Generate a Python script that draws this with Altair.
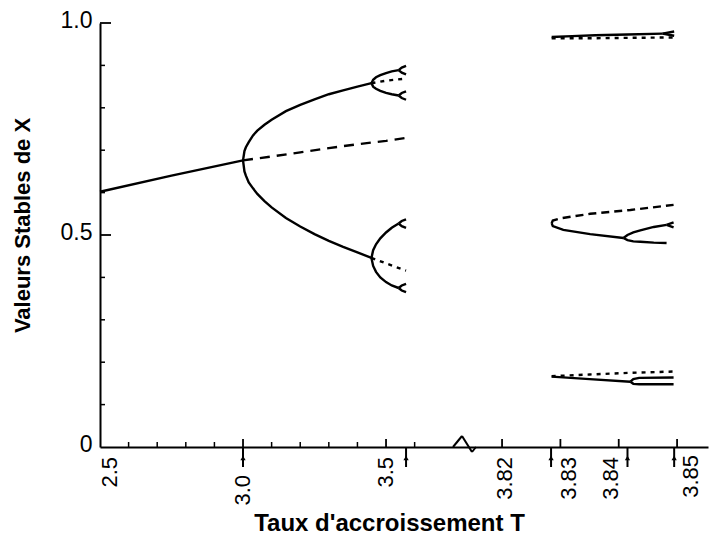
import altair as alt
import pandas as pd

# ---------------- data ----------------
# Left part (T from 2.5 to ~3.57)
p1_r = [2.5, 2.75, 3.0]
p1_x = [0.602, 0.640, 0.676]

p1u_r = [3.0, 3.1, 3.2, 3.3, 3.4, 3.5, 3.57]
p1u_x = [0.676, 0.685, 0.695, 0.705, 0.714, 0.722, 0.729]

p2_r = [3.0, 3.005, 3.01, 3.02, 3.035, 3.05, 3.075, 3.1, 3.15, 3.2, 3.25, 3.3, 3.35, 3.4, 3.449]
p2_hi = [0.676, 0.698, 0.707, 0.719, 0.735, 0.746, 0.760, 0.772, 0.792, 0.807, 0.820, 0.832, 0.841, 0.850, 0.858]
p2_lo = [0.676, 0.650, 0.640, 0.624, 0.610, 0.597, 0.580, 0.565, 0.540, 0.520, 0.502, 0.486, 0.472, 0.459, 0.446]

p2u_r = [3.449, 3.5, 3.57]
p2u_hi = [0.858, 0.864, 0.869]
p2u_lo = [0.446, 0.433, 0.416]

p4_r = [3.449, 3.455, 3.465, 3.48, 3.5, 3.52, 3.544]
p4_a = [0.858, 0.866, 0.872, 0.877, 0.882, 0.886, 0.889]
p4_b = [0.858, 0.850, 0.845, 0.840, 0.835, 0.832, 0.829]
p4_c = [0.446, 0.464, 0.478, 0.492, 0.506, 0.517, 0.527]
p4_d = [0.446, 0.427, 0.413, 0.400, 0.389, 0.381, 0.375]

p8_r = [3.544, 3.555, 3.57]
p8_spread = [0.0, 0.006, 0.010]

# Right part (period-3 window)
top_r = [3.8285, 3.832, 3.836, 3.8415, 3.8475]
top_x = [0.967, 0.969, 0.971, 0.973, 0.975]
topf_r = [3.8475, 3.8495]
topf_hi = [0.975, 0.980]
topf_lo = [0.975, 0.970]
topu_r = [3.8285, 3.835, 3.842, 3.8495]
topu_x = [0.964, 0.964, 0.965, 0.966]

mid_u_r = [3.8285, 3.8287, 3.8299, 3.8351, 3.8420, 3.8494]
mid_u_x = [0.528, 0.534, 0.539, 0.550, 0.559, 0.571]
mid_s_r = [3.8285, 3.8287, 3.8305, 3.8351, 3.8408]
mid_s_x = [0.528, 0.521, 0.512, 0.502, 0.493]
mid_b_r = [3.8408, 3.8415, 3.8425, 3.8437, 3.846, 3.8482]
mid_b_hi = [0.493, 0.500, 0.506, 0.511, 0.519, 0.524]
mid_b_lo = [0.493, 0.488, 0.485, 0.484, 0.482, 0.481]
midf_r = [3.8482, 3.8494]
midf_hi = [0.524, 0.530]
midf_lo = [0.524, 0.518]

bot_u_r = [3.8285, 3.835, 3.842, 3.8494]
bot_u_x = [0.167, 0.171, 0.175, 0.178]
bot_s_r = [3.8285, 3.835, 3.842]
bot_s_x = [0.166, 0.160, 0.154]
bot_b_r = [3.842, 3.8425, 3.8435, 3.8494]
bot_b_hi = [0.154, 0.160, 0.163, 0.164]
bot_b_lo = [0.154, 0.149, 0.148, 0.148]

# axis annotations
x_minor_ticks = [2.6, 2.7, 2.8, 2.9, 3.1, 3.2, 3.3, 3.4, 3.6]
x_major_ticks = [3.0, 3.5, 3.82, 3.83, 3.84, 3.85]
y_minor_ticks = [0.1, 0.2, 0.3, 0.4, 0.6, 0.7, 0.8, 0.9]
y_major_ticks = [0.5, 1.0]
arrow_r = [3.0, 3.57, 3.8284, 3.8415, 3.8495]
x_labels = ["2.5", "3.0", "3.5", "3.82", "3.83", "3.84", "3.85"]
x_label_vals = [2.5, 3.0, 3.5, 3.82, 3.83, 3.84, 3.85]

# ---------------- build tables ----------------
rows = []
def add(seg, style, rs, xs):
    for r, v in zip(rs, xs):
        rows.append({"seg": seg, "style": style, "r": r, "v": v})

add("p1", "solid", p1_r, p1_x)
add("p1u", "dash", p1u_r, p1u_x)
add("p2hi", "solid", p2_r, p2_hi)
add("p2lo", "solid", p2_r, p2_lo)
add("p2uhi", "dot", p2u_r, p2u_hi)
add("p2ulo", "dot", p2u_r, p2u_lo)
for name, arr in [("a", p4_a), ("b", p4_b), ("c", p4_c), ("d", p4_d)]:
    add("p4" + name, "solid", p4_r, arr)
    end = arr[-1]
    add("p8" + name + "hi", "solid", p8_r, [end + s for s in p8_spread])
    add("p8" + name + "lo", "solid", p8_r, [end - s for s in p8_spread])
add("top", "solid", top_r, top_x)
add("topfhi", "solid", topf_r, topf_hi)
add("topflo", "solid", topf_r, topf_lo)
add("topu", "dot", topu_r, topu_x)
add("midu", "dash2", mid_u_r, mid_u_x)
add("mids", "solid", mid_s_r, mid_s_x)
add("midbhi", "solid", mid_b_r, mid_b_hi)
add("midblo", "solid", mid_b_r, mid_b_lo)
add("midfhi", "solid", midf_r, midf_hi)
add("midflo", "solid", midf_r, midf_lo)
add("botu", "dot", bot_u_r, bot_u_x)
add("bots", "solid", bot_s_r, bot_s_x)
add("botbhi", "solid", bot_b_r, bot_b_hi)
add("botblo", "solid", bot_b_r, bot_b_lo)
df = pd.DataFrame(rows)

W, H = 608, 424
FONT = "Liberation Sans"

xscale = alt.Scale(domain=[2.5, 3.76, 3.8137, 3.8553], range=[0, 360.4, 365.3, W],
                   zero=False, nice=False)
yscale = alt.Scale(domain=[0, 1], zero=False, nice=False)

x_axis = alt.Axis(labels=False, ticks=False, grid=False, domainColor="black", domainWidth=2,
                  title="Taux d'accroissement T", titleFont=FONT, titleFontSize=24,
                  titleFontWeight="bold", titleColor="black", titleX=289, titleY=76,
                  titleAlign="center", titleBaseline="middle")
y_axis = alt.Axis(values=[0, 0.5, 1.0], ticks=False, grid=False, domainColor="black", domainWidth=2,
                  labelExpr="datum.value == 0 ? '0' : format(datum.value, '.1f')",
                  labelFont=FONT, labelFontSize=23, labelColor="black", labelPadding=8,
                  labelFlush=False, labelOffset=-3,
                  title="Valeurs Stables de X", titleFont=FONT, titleFontSize=22,
                  titleFontWeight="bold", titleColor="black", titleAngle=270,
                  titleX=-78, titleY=202, titleAlign="center", titleBaseline="middle")

xenc = alt.X("r:Q", scale=xscale, axis=x_axis)
yenc = alt.Y("v:Q", scale=yscale, axis=y_axis)

base = alt.Chart(df)
def curve(style, **kw):
    return base.transform_filter(f"datum.style == '{style}'").mark_line(
        color="black", strokeWidth=2.4, **kw).encode(x=xenc, y=yenc, detail="seg:N", order="r:Q")

solid = curve("solid")
dash = curve("dash", strokeDash=[10, 7])
dash2 = curve("dash2", strokeDash=[8, 5])
dot = curve("dot", strokeDash=[4, 5])

xt_minor = alt.Chart(pd.DataFrame({"r": x_minor_ticks})).mark_rule(color="black", strokeWidth=1.5).encode(
    x=xenc, y=alt.value(H), y2=alt.value(H - 5))
xt_major = alt.Chart(pd.DataFrame({"r": x_major_ticks})).mark_rule(color="black", strokeWidth=1.8).encode(
    x=xenc, y=alt.value(H), y2=alt.value(H - 8))
yt_minor = alt.Chart(pd.DataFrame({"v": y_minor_ticks})).mark_rule(color="black", strokeWidth=1.5).encode(
    y=yenc, x=alt.value(0), x2=alt.value(5))
yt_major = alt.Chart(pd.DataFrame({"v": y_major_ticks})).mark_rule(color="black", strokeWidth=1.8).encode(
    y=yenc, x=alt.value(0), x2=alt.value(11))

arrows_df = pd.DataFrame({"r": arrow_r})
arrow_lines = alt.Chart(arrows_df).mark_rule(color="black", strokeWidth=2).encode(
    x=xenc, y=alt.value(H), y2=alt.value(H + 20))
arrow_heads = alt.Chart(arrows_df).mark_point(shape="triangle-up", filled=True, size=28,
                                              color="black", opacity=1).encode(
    x=xenc, y=alt.value(H + 11))

lab_df = pd.DataFrame({"r": x_label_vals, "lab": x_labels})
label_shift = {"2.5": (10, 10), "3.0": (0, 28), "3.5": (0, 10), "3.82": (3, 10),
               "3.83": (9, 10), "3.84": (-8, 10), "3.85": (14, 8)}
label_layers = []
for lab, (dxs, top) in label_shift.items():
    label_layers.append(
        alt.Chart(lab_df[lab_df["lab"] == lab]).mark_text(
            angle=270, align="right", baseline="middle", font=FONT, fontSize=22,
            color="black", dy=dxs).encode(x=xenc, y=alt.value(H + top), text="lab:N"))

one = pd.DataFrame({"a": [0]})
zig = [
    alt.Chart(one).mark_rule(color="black", strokeWidth=2).encode(
        x=alt.value(353), x2=alt.value(362), y=alt.value(H), y2=alt.value(H - 11)),
    alt.Chart(one).mark_rule(color="black", strokeWidth=2).encode(
        x=alt.value(362), x2=alt.value(372), y=alt.value(H - 11), y2=alt.value(H + 5)),
    alt.Chart(one).mark_rule(color="black", strokeWidth=2).encode(
        x=alt.value(372), x2=alt.value(376), y=alt.value(H + 5), y2=alt.value(H)),
]

chart = alt.layer(
    solid, dash, dash2, dot, xt_minor, xt_major, yt_minor, yt_major,
    arrow_lines, arrow_heads, *label_layers, *zig
).properties(
    width=W, height=H,
    autosize=alt.AutoSizeParams(type="none"),
    padding={"left": 92, "top": 15, "right": 1, "bottom": 91},
    background="white",
).configure_view(stroke=None)

chart.save("out.html", embed_options={"renderer": "svg", "actions": False})
